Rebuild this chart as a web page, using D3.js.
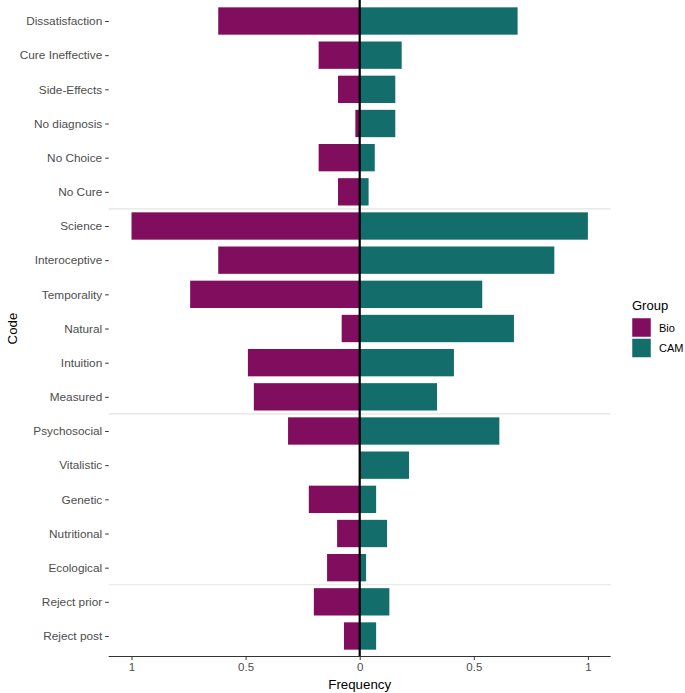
<!DOCTYPE html>
<html>
<head>
<meta charset="utf-8">
<script src="https://cdn.jsdelivr.net/npm/d3@7"></script>
<style>
  body { margin: 0; background: #fff; }
  svg { font-family: "Liberation Sans", Arial, sans-serif; }
</style>
</head>
<body>
<div id="chart"></div>
<script>
// ---- data ----
const codes = ['Dissatisfaction', 'Cure Ineffective', 'Side-Effects', 'No diagnosis', 'No Choice', 'No Cure',
  'Science', 'Interoceptive', 'Temporality', 'Natural', 'Intuition', 'Measured',
  'Psychosocial', 'Vitalistic', 'Genetic', 'Nutritional', 'Ecological',
  'Reject prior', 'Reject post'];
const bioValues = [0.62, 0.18, 0.095, 0.019, 0.18, 0.095,
  1.0, 0.62, 0.743, 0.079, 0.49, 0.464,
  0.314, 0, 0.223, 0.099, 0.143,
  0.201, 0.069];
const camValues = [0.692, 0.184, 0.156, 0.156, 0.066, 0.039,
  1.0, 0.853, 0.537, 0.676, 0.413, 0.339,
  0.612, 0.216, 0.072, 0.12, 0.028,
  0.13, 0.072];
const groups = ['Bio', 'CAM'];
const xTicks = [-1, -0.5, 0, 0.5, 1];
const groupBreaks = ['Science', 'Psychosocial', 'Reject prior']; // first code of each new block

const colors = { Bio: '#800D5E', CAM: '#136E6B' };

// ---- layout ----
const W = 685, H = 693;
const panel = { left: 108.7, right: 610.7, top: 0.5, bottom: 656.5 };

const svg = d3.select('#chart').append('svg')
  .attr('width', W)
  .attr('height', H);

const x = d3.scaleLinear()
  .domain([-1.1, 1.1])
  .range([panel.left, panel.right]);

const step = (panel.bottom - panel.top) / (codes.length - 1 + 1.2);
const y = d3.scalePoint()
  .domain(codes)
  .range([panel.top + 0.6 * step, panel.bottom - 0.6 * step]);
const barH = step * 0.8;

// separators between blocks
svg.append('g')
  .selectAll('line')
  .data(groupBreaks)
  .join('line')
  .attr('x1', panel.left)
  .attr('x2', panel.right)
  .attr('y1', d => y(d) - step / 2)
  .attr('y2', d => y(d) - step / 2)
  .attr('stroke', '#e3e3e3')
  .attr('stroke-width', 1.2);

// bars
const rows = codes.map((c, i) => ({ code: c, bio: bioValues[i], cam: camValues[i] }));

svg.append('g')
  .selectAll('rect')
  .data(rows)
  .join('rect')
  .attr('x', d => x(-d.bio))
  .attr('width', d => x(0) - x(-d.bio))
  .attr('y', d => y(d.code) - barH / 2)
  .attr('height', barH)
  .attr('fill', colors.Bio);

svg.append('g')
  .selectAll('rect')
  .data(rows)
  .join('rect')
  .attr('x', x(0))
  .attr('width', d => x(d.cam) - x(0))
  .attr('y', d => y(d.code) - barH / 2)
  .attr('height', barH)
  .attr('fill', colors.CAM);

// zero line
svg.append('line')
  .attr('x1', x(0)).attr('x2', x(0))
  .attr('y1', panel.top - 1).attr('y2', panel.bottom)
  .attr('stroke', '#000')
  .attr('stroke-width', 2.2);

// x axis
const xAxis = svg.append('g')
  .attr('transform', `translate(0,${panel.bottom})`)
  .call(d3.axisBottom(x).tickValues(xTicks).tickSize(3.5).tickPadding(3)
    .tickFormat(d => d3.format('')(Math.abs(d))));
xAxis.select('.domain').attr('stroke', '#333').attr('stroke-width', 1.1)
  .attr('d', `M${panel.left},0H${panel.right}`);
xAxis.selectAll('.tick line').attr('stroke', '#333');
xAxis.selectAll('.tick text').attr('fill', '#4d4d4d').attr('font-size', 11.5)
  .attr('font-family', '"Liberation Sans", Arial, sans-serif');

// y axis
const yAxis = svg.append('g')
  .attr('transform', `translate(${panel.left},0)`)
  .call(d3.axisLeft(y).tickSize(3.5).tickPadding(3));
yAxis.select('.domain').remove();
yAxis.selectAll('.tick line').attr('stroke', '#333');
yAxis.selectAll('.tick text').attr('fill', '#4d4d4d').attr('font-size', 11.8)
  .attr('font-family', '"Liberation Sans", Arial, sans-serif');

// axis titles
svg.append('text')
  .attr('x', x(0))
  .attr('y', 689)
  .attr('text-anchor', 'middle')
  .attr('font-size', 13.3)
  .attr('fill', '#000')
  .text('Frequency');

svg.append('text')
  .attr('transform', `translate(12,${(panel.top + panel.bottom) / 2}) rotate(-90)`)
  .attr('text-anchor', 'middle')
  .attr('dy', '0.35em')
  .attr('font-size', 13.3)
  .attr('fill', '#000')
  .text('Code');

// legend
const legend = svg.append('g').attr('transform', 'translate(632,300)');
legend.append('text')
  .attr('x', 0).attr('y', 10)
  .attr('font-size', 13)
  .text('Group');
const keys = legend.selectAll('g.key')
  .data(groups)
  .join('g')
  .attr('class', 'key')
  .attr('transform', (d, i) => `translate(0,${18 + i * 20.5})`);
keys.append('rect')
  .attr('width', 19).attr('height', 19)
  .attr('fill', d => colors[d])
  .attr('stroke', '#fff').attr('stroke-width', 0.5);
keys.append('text')
  .attr('x', 27).attr('y', 10).attr('dy', '0.35em')
  .attr('font-size', 11)
  .text(d => d);
</script>
</body>
</html>
